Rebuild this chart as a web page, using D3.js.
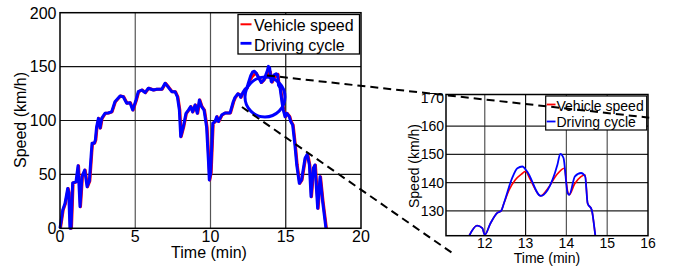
<!DOCTYPE html>
<html>
<head>
<meta charset="utf-8">
<script src="https://cdn.jsdelivr.net/npm/d3@7"></script>
<style>
  body { margin: 0; background: white; }
  text { font-family: "Liberation Sans", Arial, sans-serif; fill: black; }
</style>
</head>
<body>
<div id="chart"></div>
<script>
// driving cycle, time in min, speed in km/h
var cycleTime  = [0,0.18,0.33,0.51,0.58,0.66,0.73,0.84,1.06,1.2,1.33,1.46,1.64,1.8,1.95,2.08,2.13,2.28,2.35,2.43,2.55,2.66,2.77,2.99,3.2,3.43,3.65,3.99,4.2,4.43,4.65,4.83,5.05,5.2,5.43,5.65,5.87,6.2,6.42,6.76,6.98,7.2,7.42,7.64,7.8,7.93,8.02,8.19,8.37,8.53,8.68,8.81,8.97,9.12,9.26,9.41,9.57,9.74,9.86,9.92,10.01,10.15,10.3,10.41,10.52,10.74,10.96,11.3,11.51,11.62,11.81,11.94,12.0,12.14,12.3,12.4,12.47,12.67,12.8,12.92,13.04,13.37,13.54,13.78,13.85,13.93,14.03,14.07,14.21,14.36,14.46,14.52,14.62,14.71,14.76,14.84,14.95,15.06,15.24,15.33,15.46,15.61,15.73,15.9,16.05,16.28,16.43,16.57,16.68,16.83,16.94,17.12,17.28,17.45,17.67]
var cycleSpeed = [0,17,23,37,33,0,0,42,43,58,20,48,54,38.6,44,70,79,79,82,94,102,93,102,106.7,107,108,117.4,122.7,122,116,116.5,109.7,119,126.7,128.3,125.8,129.9,128.3,129,129,134.5,130.8,126.7,126.7,122,109.7,85,94,106.7,109.7,112.8,108,114.4,106.7,119,112.8,109.7,94,63,44.8,51,97.4,99,103.5,99,105,107,107,117.4,121.2,124.8,123.9,121.5,125.6,129.2,130,132.7,141.6,145.1,145.7,143.9,135.3,137.4,146.3,150.2,148.7,136.3,135.7,142.2,143.4,142.2,132.7,130.4,121.2,116,109.7,103.5,106.7,103.5,99,95.8,77,58.7,41.7,44.8,65,68.6,58.7,29.3,55.7,58.7,18.5,47.9,24.7,0]

// vehicle speed (follows the cycle, smoother on the peaks)
var vehTime  = [0,0.18,0.33,0.51,0.58,0.66,0.73,0.84,1.06,1.2,1.33,1.46,1.64,1.8,1.95,2.08,2.13,2.28,2.35,2.43,2.55,2.66,2.77,2.99,3.2,3.43,3.65,3.99,4.2,4.43,4.65,4.83,5.05,5.2,5.43,5.65,5.87,6.2,6.42,6.76,6.98,7.2,7.42,7.64,7.8,7.93,8.02,8.19,8.37,8.53,8.68,8.81,8.97,9.12,9.26,9.41,9.57,9.74,9.86,9.92,10.01,10.15,10.3,10.41,10.52,10.74,10.96,11.3,11.51,11.62,11.81,11.94,12.0,12.14,12.3,12.4,12.47,12.6,12.75,12.9,13.0,13.1,13.37,13.55,13.75,13.95,14.03,14.07,14.2,14.35,14.46,14.52,14.62,14.71,14.76,14.84,14.95,15.06,15.24,15.33,15.46,15.61,15.73,15.9,16.05,16.28,16.43,16.57,16.68,16.83,16.94,17.12,17.28,17.45,17.67]
var vehSpeed = [0,17,23,37,33,0,0,42,43,58,20,48,54,38.6,44,70,79,79,82,94,102,93,102,106.7,107,108,117.4,122.7,122,116,116.5,109.7,119,126.7,128.3,125.8,129.9,128.3,129,129,134.5,130.8,126.7,126.7,122,109.7,85,94,106.7,109.7,112.8,108,114.4,106.7,119,112.8,109.7,94,63,44.8,51,97.4,99,103.5,99,105,107,107,117.4,121.2,124.8,123.9,121.5,125.6,129.2,130,132.7,137.5,141,143,144,141.5,135.3,138,142.5,145.1,137,135.7,139.5,142,142.8,132.7,130.4,121.2,116,109.7,103.5,106.7,103.5,99,95.8,77,58.7,41.7,44.8,65,68.6,58.7,29.3,55.7,58.7,18.5,47.9,24.7,0]

var mainXTicks = [0,5,10,15,20]
var mainYTicks = [0,50,100,150,200]
var zoomXTicks = [12,13,14,15,16]
var zoomYTicks = [130,140,150,160,170]
var legendLabels = ["Vehicle speed","Driving cycle"]
var legendColors = ["#ff0000","#0000ff"]

var W = 676, H = 267
var svg = d3.select("#chart").append("svg")
            .attr("width", W)
            .attr("height", H)

var cycle = cycleTime.map((t,i) => [t, cycleSpeed[i]])
var veh = vehTime.map((t,i) => [t, vehSpeed[i]])

// ---------- main plot ----------
var mx = d3.scaleLinear().domain([0,20]).range([60,361])
var my = d3.scaleLinear().domain([0,200]).range([228.3,12.7])

var main = svg.append("g")

main.selectAll(".vg").data(mainXTicks.slice(1,-1)).enter()
    .append("line")
    .attr("x1", d => mx(d)).attr("x2", d => mx(d))
    .attr("y1", my(0)).attr("y2", my(200))
    .attr("stroke", d => d == 15 ? "#111" : "#555")
    .attr("stroke-width", 1.2)
main.selectAll(".hg").data(mainYTicks.slice(1,-1)).enter()
    .append("line")
    .attr("x1", mx(0)).attr("x2", mx(20))
    .attr("y1", d => my(d)).attr("y2", d => my(d))
    .attr("stroke", "#111")
    .attr("stroke-width", 1.2)

var mline = d3.line().x(d => mx(d[0])).y(d => my(d[1]))
main.append("path")
    .attr("d", mline(veh))
    .attr("fill", "none")
    .attr("stroke", "#ff0000")
    .attr("stroke-width", 3)
    .attr("stroke-linejoin", "round")
    .attr("transform", "translate(0.5,0)")
main.append("path")
    .attr("d", mline(cycle))
    .attr("fill", "none")
    .attr("stroke", "#0000ff")
    .attr("stroke-width", 3)
    .attr("stroke-linejoin", "round")

main.append("rect")
    .attr("x", mx(0)).attr("y", my(200))
    .attr("width", mx(20)-mx(0)).attr("height", my(0)-my(200))
    .attr("fill", "none")
    .attr("stroke", "black")
    .attr("stroke-width", 1.5)

main.selectAll(".xt").data(mainXTicks).enter()
    .append("text")
    .attr("x", d => mx(d)).attr("y", 241.5)
    .attr("text-anchor", "middle")
    .style("font-size", "16px")
    .text(d => d)
main.selectAll(".yt").data(mainYTicks).enter()
    .append("text")
    .attr("x", 56.5).attr("y", d => my(d) + 5.8)
    .attr("text-anchor", "end")
    .style("font-size", "16px")
    .text(d => d)
main.append("text")
    .attr("x", 209).attr("y", 257.5)
    .attr("text-anchor", "middle")
    .style("font-size", "16px")
    .text("Time (min)")
main.append("text")
    .attr("transform", "translate(26,120) rotate(-90)")
    .attr("text-anchor", "middle")
    .style("font-size", "16px")
    .text("Speed (km/h)")

// legend
main.append("rect")
    .attr("x", 238).attr("y", 14.5)
    .attr("width", 121.5).attr("height", 39.5)
    .attr("fill", "white")
    .attr("stroke", "black")
    .attr("stroke-width", 1.3)
legendLabels.forEach((lab,i) => {
  main.append("line")
      .attr("x1", 240.5).attr("x2", 251.5)
      .attr("y1", 24.3 + i*19).attr("y2", 24.3 + i*19)
      .attr("stroke", legendColors[i])
      .attr("stroke-width", i == 0 ? 2 : 2.8)
  main.append("text")
      .attr("x", 254).attr("y", 31 + i*19.5)
      .style("font-size", "16px")
      .text(lab)
})

// zoom circle
main.append("circle")
    .attr("cx", mx(13.62)).attr("cy", my(121.8))
    .attr("r", 20)
    .attr("fill", "none")
    .attr("stroke", "#0000ff")
    .attr("stroke-width", 3)

// ---------- inset ----------
var zx = d3.scaleLinear().domain([11.05,16]).range([446,648])
var zy = d3.scaleLinear().domain([121.2,171.2]).range([235.7,94.5])

var ins = svg.append("g")
svg.append("clipPath").attr("id","clipz")
   .append("rect")
   .attr("x", zx(11.05)).attr("y", zy(171.2))
   .attr("width", zx(16)-zx(11.05)).attr("height", zy(121.2)-zy(171.2))

ins.selectAll(".vg").data(zoomXTicks.slice(0,-1)).enter()
   .append("line")
   .attr("x1", d => zx(d)).attr("x2", d => zx(d))
   .attr("y1", zy(121.2)).attr("y2", zy(171.2))
   .attr("stroke", d => d == 13 ? "#111" : "#555")
   .attr("stroke-width", 1.2)
ins.selectAll(".hg").data(zoomYTicks.slice(0,-1)).enter()
   .append("line")
   .attr("x1", zx(11.05)).attr("x2", zx(16))
   .attr("y1", d => zy(d)).attr("y2", d => zy(d))
   .attr("stroke", "#222")
   .attr("stroke-width", 1.2)

var zline = d3.line().curve(d3.curveMonotoneX).x(d => zx(d[0])).y(d => zy(d[1]))
ins.append("path")
   .attr("d", zline(veh))
   .attr("clip-path", "url(#clipz)")
   .attr("fill", "none")
   .attr("stroke", "#ff0000")
   .attr("stroke-width", 1.6)
ins.append("path")
   .attr("d", zline(cycle))
   .attr("clip-path", "url(#clipz)")
   .attr("fill", "none")
   .attr("stroke", "#0000ff")
   .attr("stroke-width", 1.8)

ins.append("rect")
   .attr("x", zx(11.05)).attr("y", zy(171.2))
   .attr("width", zx(16)-zx(11.05)).attr("height", zy(121.2)-zy(171.2))
   .attr("fill", "none")
   .attr("stroke", "black")
   .attr("stroke-width", 1.5)

ins.selectAll(".xt").data(zoomXTicks).enter()
   .append("text")
   .attr("x", d => zx(d)).attr("y", 247.5)
   .attr("text-anchor", "middle")
   .style("font-size", "14px")
   .text(d => d)
ins.selectAll(".yt").data(zoomYTicks).enter()
   .append("text")
   .attr("x", 444).attr("y", d => zy(d) + 5)
   .attr("text-anchor", "end")
   .style("font-size", "14px")
   .text(d => d)
ins.append("text")
   .attr("x", 547).attr("y", 262.5)
   .attr("text-anchor", "middle")
   .style("font-size", "14px")
   .text("Time (min)")
ins.append("text")
   .attr("transform", "translate(419,166) rotate(-90)")
   .attr("text-anchor", "middle")
   .style("font-size", "14px")
   .text("Speed (km/h)")

ins.append("rect")
   .attr("x", 545.7).attr("y", 96)
   .attr("width", 101).attr("height", 34)
   .attr("fill", "white")
   .attr("stroke", "black")
   .attr("stroke-width", 1.2)
legendLabels.forEach((lab,i) => {
  ins.append("line")
     .attr("x1", 546.7).attr("x2", 555.5)
     .attr("y1", 104.5 + i*17).attr("y2", 104.5 + i*17)
     .attr("stroke", legendColors[i])
     .attr("stroke-width", 1.8)
  ins.append("text")
     .attr("x", 556.5).attr("y", 111 + i*16.3)
     .style("font-size", "14px")
     .text(lab)
})

// dashed connectors from the circle to the inset
var links = [[[13.75,141.8],[16.03,163]], [[12.09,112.5],[11.2,115.1]]]
links.forEach(l => {
  svg.append("line")
     .attr("x1", mx(l[0][0])).attr("y1", my(l[0][1]))
     .attr("x2", zx(l[1][0])).attr("y2", zy(l[1][1]))
     .attr("stroke", "black")
     .attr("stroke-width", 2)
     .attr("stroke-dasharray", "8,5")
})
</script>
</body>
</html>
